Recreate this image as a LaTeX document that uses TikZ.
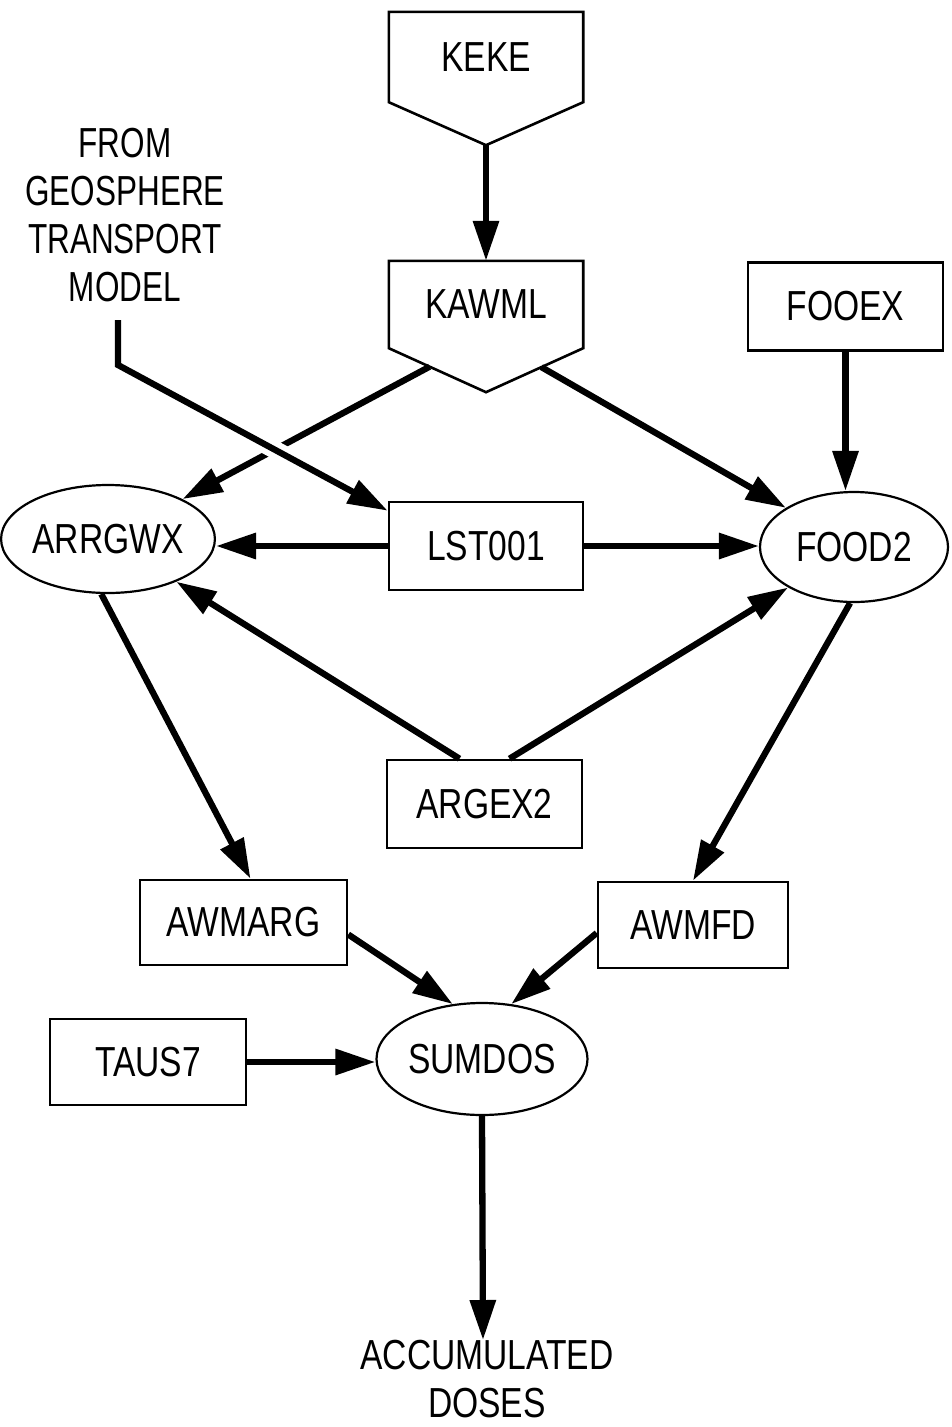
\documentclass[tikz,border=0pt]{standalone}
\usepackage{fontspec}
\setmainfont{Liberation Sans}[FakeStretch=0.8]
\newfontfamily\narrowlabel{Liberation Sans}[FakeStretch=0.75]
\usetikzlibrary{arrows.meta,shapes.geometric,calc}

\begin{document}
\begin{tikzpicture}[x=1pt,y=-1pt,
  every node/.style={font=\fontsize{42}{48}\selectfont, inner sep=0pt},
  box/.style={draw, line width=2.6pt, rectangle},
  oval/.style={draw, line width=2.2pt, ellipse},
  frame/.style={line width=2.6pt, line join=miter},
  flow/.style={line width=6.3pt, -{Triangle[length=40pt,width=25pt]}},
]
\useasboundingbox[fill=white] (0,0) rectangle (951,1427);

% pentagon-shaped input blocks
\node[minimum width=194pt, minimum height=90pt] (keke) at (486,57) {KEKE};
\draw[frame] (keke.north west) -- (keke.north east) -- (keke.south east)
  -- ($(keke.south)+(0,43)$) coordinate (keketip) -- (keke.south west) -- cycle;

\node[minimum width=194pt, minimum height=87pt] (kawml) at (486,304.5) {KAWML};
\draw[frame] (kawml.north west) -- (kawml.north east) -- (kawml.south east)
  -- ($(kawml.south)+(0,44)$) coordinate (kawmltip) -- (kawml.south west) -- cycle;
\coordinate (kawmlL) at ($(kawml.south west)!0.42!(kawmltip)$);
\coordinate (kawmlR) at ($(kawmltip)!0.57!(kawml.south east)$);

% rectangular and elliptical blocks
\node[box, minimum width=195pt, minimum height=88pt] (fooex) at (845.5,306.5) {FOOEX};
\node[oval, minimum width=190pt, minimum height=108pt] (arrgwx) at (108,539) {ARRGWX};
\node[box, minimum width=194pt, minimum height=88pt] (lst) at (486,546) {LST001};
\node[oval, minimum width=188pt, minimum height=110pt] (food2) at (854,547) {FOOD2};
\node[box, minimum width=195pt, minimum height=88pt] (argex) at (484.5,804) {ARGEX2};
\node[box, minimum width=207pt, minimum height=85pt] (awmarg) at (243.5,922.5) {AWMARG};
\node[box, minimum width=190pt, minimum height=86pt] (awmfd) at (693,925) {AWMFD};
\node[oval, minimum width=211pt, minimum height=112pt] (sumdos) at (482,1059) {SUMDOS};
\node[box, minimum width=196pt, minimum height=86pt] (taus) at (148,1062) {TAUS7};

% free texts
\node[anchor=north, align=center, font=\narrowlabel\fontsize{42}{48}\selectfont]
  (geo) at (125,128) {FROM\\GEOSPHERE\\TRANSPORT\\MODEL};
\node[anchor=north, align=center] (acc) at (487,1340) {ACCUMULATED\\DOSES};
\coordinate (geotop) at (118,320);
\coordinate (geocorner) at (118,365);

% connectors
\draw[flow] (keketip) -- (kawml.north);
\draw[flow] (kawmlL) -- (arrgwx);
\draw[white, line width=18pt, shorten <=150pt, shorten >=80pt]
  (geocorner) -- ($(lst.north west)+(0,10)$);
\draw[flow, line join=miter] (geotop) -- (geocorner) -- ($(lst.north west)+(0,10)$);
\draw[flow] (kawmlR) -- (food2);
\draw[flow] (fooex.south) -- (fooex.south |- food2.north);
\draw[flow] (lst.west) -- (lst.west -| arrgwx.east);
\draw[flow] (lst.east) -- (lst.east -| food2.west);
\draw[flow] ($(argex.north)+(-25,0)$) -- (arrgwx);
\draw[flow] ($(argex.north)+(25,0)$) -- (food2);
\draw[flow] (arrgwx.263) -- ($(awmarg.north)+(7,0)$);
\draw[flow] (food2.266) -- (awmfd.north);
\draw[flow] ($(awmarg.east)+(0,12)$) -- (sumdos.118);
\draw[flow] ($(awmfd.west)+(0,8)$) -- (sumdos.62);
\draw[flow] (taus.east) -- (taus.east -| sumdos.west);
\draw[flow] (sumdos.south) -- ($(acc.north)+(-4,0)$);
\end{tikzpicture}
\end{document}
